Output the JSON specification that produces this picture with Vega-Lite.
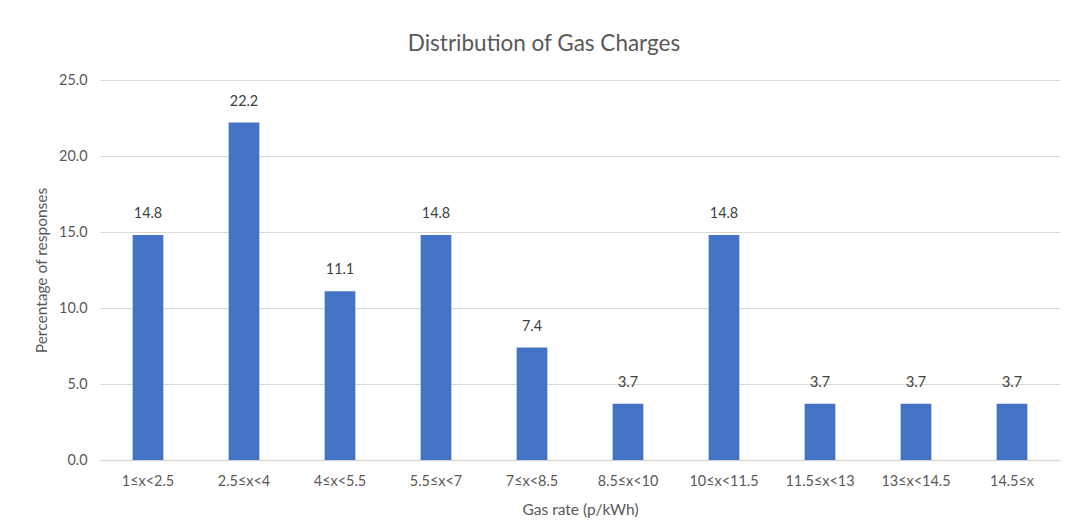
{
  "$schema": "https://vega.github.io/schema/vega-lite/v6.json",
  "autosize": {"type": "none"},
  "width": 960,
  "height": 380,
  "padding": {"left": 100, "top": 80, "right": 5, "bottom": 71},
  "background": "white",
  "title": {
    "text": "Distribution of Gas Charges",
    "font": "Lato",
    "fontSize": 22.5,
    "fontWeight": "normal",
    "color": "#595959",
    "anchor": "middle",
    "dx": -36,
    "offset": 17
  },
  "data": {
    "values": [
      {"range": "1≤x<2.5", "pct": 14.8},
      {"range": "2.5≤x<4", "pct": 22.2},
      {"range": "4≤x<5.5", "pct": 11.1},
      {"range": "5.5≤x<7", "pct": 14.8},
      {"range": "7≤x<8.5", "pct": 7.4},
      {"range": "8.5≤x<10", "pct": 3.7},
      {"range": "10≤x<11.5", "pct": 14.8},
      {"range": "11.5≤x<13", "pct": 3.7},
      {"range": "13≤x<14.5", "pct": 3.7},
      {"range": "14.5≤x", "pct": 3.7}
    ]
  },
  "encoding": {
    "x": {
      "field": "range",
      "type": "nominal",
      "sort": null,
      "scale": {"paddingInner": 0.68, "paddingOuter": 0.34},
      "axis": {
        "title": "Gas rate (p/kWh)",
        "labelAngle": 0,
        "labelFont": "Lato",
        "labelFontSize": 14.4,
        "labelColor": "#595959",
        "labelPadding": 14,
        "ticks": false,
        "domainColor": "#d9d9d9",
        "domainWidth": 1.5,
        "titleFont": "Lato",
        "titleFontSize": 15.5,
        "titleFontWeight": "normal",
        "titleColor": "#595959",
        "titlePadding": 15
      }
    },
    "y": {
      "field": "pct",
      "type": "quantitative",
      "scale": {"domain": [0, 25]},
      "axis": {
        "title": "Percentage of responses",
        "format": ".1f",
        "values": [0, 5, 10, 15, 20, 25],
        "labelOverlap": false,
        "labelFont": "Lato",
        "labelFontSize": 14.4,
        "labelColor": "#595959",
        "labelPadding": 13,
        "ticks": false,
        "domain": false,
        "gridColor": "#d9d9d9",
        "gridWidth": 1.2,
        "titleFont": "Lato",
        "titleFontSize": 15.5,
        "titleFontWeight": "normal",
        "titleColor": "#595959",
        "titlePadding": 9
      }
    }
  },
  "layer": [
    {"mark": {"type": "bar", "color": "#4472C4"}},
    {
      "mark": {"type": "text", "baseline": "middle", "dy": -21, "font": "Lato", "fontSize": 14.4, "color": "#404040"},
      "encoding": {"text": {"field": "pct", "type": "quantitative", "format": ".1f"}}
    }
  ],
  "config": {"view": {"stroke": null}}
}
